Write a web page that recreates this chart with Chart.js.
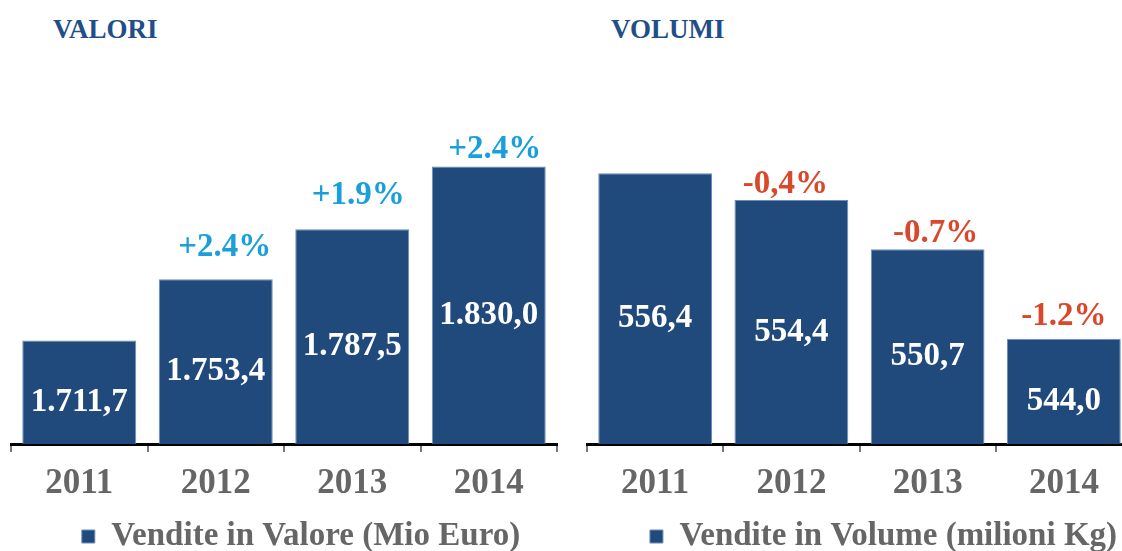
<!DOCTYPE html>
<html>
<head>
<meta charset="utf-8">
<script src="https://cdn.jsdelivr.net/npm/chart.js@4"></script>
<style>
  html, body { margin: 0; padding: 0; background: #fff; overflow: hidden; }
  body { width: 1122px; height: 551px; position: relative; font-family: "Liberation Serif", serif; }
  .title { position: absolute; top: 16px; line-height: 1; font-weight: bold; font-size: 27px; color: #1f4e88; }
  .wrap { position: absolute; top: 0; height: 563px; }
</style>
</head>
<body>
<div class="title" style="left:53px">VALORI</div>
<div class="title" style="left:611px">VOLUMI</div>
<div class="wrap" style="left:0; width:561px"><canvas id="valori"></canvas></div>
<div class="wrap" style="left:561px; width:580px"><canvas id="volumi"></canvas></div>
<script>
// ====== DATA ======
const years = ["2011", "2012", "2013", "2014"];
const valori = [1711.7, 1753.4, 1787.5, 1830.0];
const valoriPct = [null, "+2.4%", "+1.9%", "+2.4%"];
const volumi = [556.4, 554.4, 550.7, 544.0];
const volumiPct = [null, "-0,4%", "-0.7%", "-1.2%"];

const navy = "#214a7c";
const font = "Liberation Serif";

// italian number format: 1.711,7
function fmt(n) {
  let [a, d] = n.toFixed(1).split(".");
  a = a.replace(/\B(?=(\d{3})+(?!\d))/g, ".");
  return a + "," + d;
}

// value inside bar + change label above bar
function labelsPlugin(pct, pctColor, pctOffsets, legendShift) {
  return {
    id: 'barLabels',
    afterLayout(chart) {
      // legend sits a bit right of centre in the original
      chart.legend.left += legendShift;
      chart.legend.right += legendShift;
    },
    afterDatasetsDraw(chart) {
      const c = chart.ctx;
      const meta = chart.getDatasetMeta(0);
      const base = chart.chartArea.bottom;
      c.save();
      c.textAlign = 'center';
      c.textBaseline = 'middle';
      c.font = `bold 33px "${font}"`;
      meta.data.forEach((bar, i) => {
        const v = chart.data.datasets[0].data[i];
        c.fillStyle = '#ffffff';
        c.fillText(fmt(v), bar.x, (bar.y + base) / 2 + 10);
        if (pct[i]) {
          const [dx, dy] = pctOffsets[i];
          c.fillStyle = pctColor;
          c.fillText(pct[i], bar.x + dx, bar.y + dy);
        }
      });
      c.restore();
    }
  };
}

function makeChart(id, label, data, min, max, pct, pctColor, pctOffsets, pad, legendShift) {
  return new Chart(document.getElementById(id), {
    type: 'bar',
    data: {
      labels: years,
      datasets: [{
        label: label,
        data: data,
        backgroundColor: navy,
        borderColor: '#6f8db5',
        borderWidth: 1,
        borderSkipped: 'bottom',
        categoryPercentage: 1,
        barPercentage: 0.835
      }]
    },
    options: {
      responsive: true,
      maintainAspectRatio: false,
      animation: false,
      layout: { padding: pad },
      plugins: {
        legend: {
          position: 'bottom',
          labels: {
            color: '#666',
            font: { family: font, size: 33, weight: 'bold' },
            boxWidth: 13, boxHeight: 13, padding: 4
          }
        },
        tooltip: { enabled: false }
      },
      scales: {
        x: {
          border: { display: true, color: '#000', width: 3 },
          grid: { offset: true, drawOnChartArea: false, drawTicks: true, tickLength: 8, color: '#777', lineWidth: 2 },
          ticks: { color: '#666', font: { family: font, size: 35, weight: 'bold' }, padding: 11 }
        },
        y: { display: false, min: min, max: max }
      }
    },
    plugins: [labelsPlugin(pct, pctColor, pctOffsets, legendShift)]
  });
}

makeChart('valori', 'Vendite in Valore (Mio Euro)', valori, 1641.4, 1875.3,
  valoriPct, '#1a9fdb', [null, [9, -32], [6, -34], [6, -17]],
  { left: 11, right: 4, top: 100, bottom: 0 }, 17);
makeChart('volumi', 'Vendite in Volume (milioni Kg)', volumi, 536.1, 561.9,
  volumiPct, '#d9482b', [null, [-6, -16], [8, -16], [0, -22]],
  { left: 26, right: 9, top: 100, bottom: 0 }, 24);
</script>
</body>
</html>
